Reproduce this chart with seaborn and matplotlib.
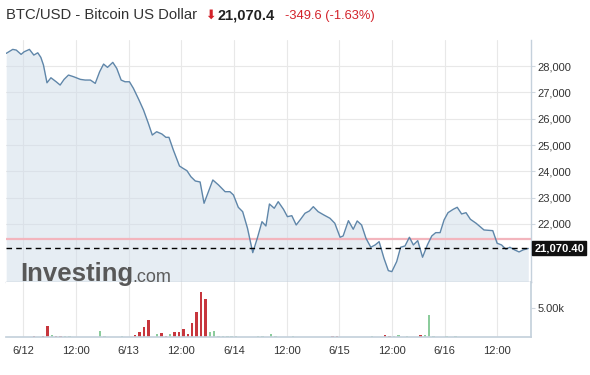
import numpy as np
import pandas as pd
import matplotlib
matplotlib.use("Agg")
import matplotlib.pyplot as plt
import matplotlib.transforms as mtransforms
import seaborn as sns

# ---------------- data ----------------
title_name = "BTC/USD - Bitcoin US Dollar"
last_price = 21070.4
change_abs = -349.6
change_pct = -1.63
prev_close = 21420.0

# hours since 6/12 00:00
price_hours = [-3.9, -2.4, -1.6, -0.5, 0.2, 1.4, 2.4, 3.3, 4.0, 4.6,
               5.4, 6.3, 7.5, 8.4, 9.3, 10.3, 11.5, 13.0, 14.1, 15.3,
               16.4, 17.4, 18.3, 19.2, 20.4, 21.3, 22.3, 23.2, 24.2, 25.1,
               26.3, 27.4, 28.5, 29.4, 30.4, 31.6, 32.5, 33.2, 34.2, 35.6,
               36.4, 37.3, 38.2, 39.2, 40.3, 41.2, 43.2, 44.5, 46.0, 47.1,
               47.9, 49.0, 50.0, 51.1, 52.3, 53.4, 54.4, 55.3, 56.1, 57.2,
               58.1, 59.3, 60.2, 61.2, 62.2, 63.2, 64.2, 65.2, 66.1, 67.2,
               68.5, 69.9, 71.0, 72.2, 72.9, 74.1, 75.2, 76.1, 77.1, 78.1,
               79.2, 80.2, 81.1, 82.2, 83.2, 84.0, 85.1, 86.0, 87.0, 88.0,
               88.9, 89.9, 91.0, 92.1, 93.1, 94.0, 95.0, 95.9, 96.8, 98.0,
               98.9, 99.9, 100.9, 101.9, 103.2, 105.0, 107.0, 108.0, 109.0, 110.0,
               110.9, 112.0, 113.0, 113.9, 115.1]
prices = [28481, 28633, 28607, 28444, 28542, 28633, 28417, 28504, 28330, 28037,
          27365, 27555, 27403, 27278, 27494, 27658, 27593, 27494, 27468, 27468,
          27342, 27783, 28075, 27950, 28140, 27912, 27468, 27403, 27403, 27153,
          26735, 26329, 25824, 25379, 25505, 25417, 25292, 25292, 24810, 24202,
          24115, 24024, 23796, 23633, 23595, 22786, 23671, 23481, 23226, 23226,
          23101, 22634, 22467, 21837, 20910, 21495, 22087, 21924, 22759, 22596,
          22847, 22558, 22277, 22315, 21962, 22178, 22406, 22494, 22657, 22467,
          22342, 22216, 22027, 21495, 21544, 22125, 21799, 22114, 21962, 21457,
          21115, 21203, 21328, 20698, 20227, 20189, 20569, 21115, 21165, 21495,
          21203, 21366, 20736, 21203, 21544, 21670, 21670, 22152, 22429, 22558,
          22634, 22380, 22429, 22178, 22027, 21772, 21746, 21267, 21203, 21039,
          21115, 21013, 20937, 21013, 21070.4]

vol_hours = [2, 4, 5, 6, 7, 8, 9, 10, 17, 18, 22,
             25, 26, 27, 28, 30, 31, 32, 33, 34, 35, 36, 37, 38, 39, 40,
             41, 42, 43, 44, 45, 46, 47, 48, 53, 54, 56, 57, 61,
             70, 71, 79, 82, 83, 84, 85, 87, 90, 91, 92, 93, 96, 98]
vol_values = [180, 180, 1840, 400, 230, 290, 180, 170, 1150, 170, 170,
              460, 980, 1780, 2930, 520, 750, 290, 520, 920, 920, 1440, 570, 2410, 4200, 7700,
              6550, 980, 1150, 230, 170, 170, 170, 170, 250, 170, 570, 170, 170,
              290, 290, 170, 400, 290, 290, 400, 170, 400, 400, 3850, 170, 170, 170]
vol_dirs = ["down", "down", "down", "up", "down", "down", "up", "up", "up", "up", "up",
            "down", "down", "down", "down", "up", "down", "down", "up", "down", "down", "down", "down", "down", "down", "down",
            "down", "up", "up", "up", "up", "up", "up", "up", "up", "up", "up", "up", "up",
            "down", "down", "up", "down", "down", "up", "up", "up", "down", "up", "up", "up", "up", "up"]

tick_hours = [0, 12, 24, 36, 48, 60, 72, 84, 96, 108]
tick_labels = ["6/12", "12:00", "6/13", "12:00", "6/14", "12:00", "6/15", "12:00", "6/16", "12:00"]
price_ticks = [22000, 23000, 24000, 25000, 26000, 27000, 28000]
vol_ticks = [5000]
vol_tick_labels = ["5.00k"]

# ---------------- style ----------------
sns.set_theme(style="white")
plt.rcParams['font.family'] = ['Liberation Sans', 'DejaVu Sans']

W, H = 590, 375
fig = plt.figure(figsize=(W / 100, H / 100), dpi=100)
fig.patch.set_facecolor("white")

left_px, right_px = 6, 530.5
p_top, p_bot = 40, 282
v_bot = 337.4
ax = fig.add_axes([left_px / W, 1 - p_bot / H, (right_px - left_px) / W, (p_bot - p_top) / H])
axv = fig.add_axes([left_px / W, 1 - v_bot / H, (right_px - left_px) / W, (v_bot - p_bot) / H], sharex=ax)

grid_col = "#e8e8e8"
spine_col = "#c5d1dc"
txt_col = "#333333"

# price panel
df = pd.DataFrame({"hour": price_hours, "price": prices})
ax.fill_between(df["hour"], df["price"], 15000, color="#cfdce9", alpha=0.5, lw=0, zorder=1)
sns.lineplot(data=df, x="hour", y="price", ax=ax, color="#5f86a9", lw=1.0, zorder=3)
ax.axhline(prev_close, color="#f3b5bd", lw=1.6, zorder=2)
ax.axhline(last_price, color="black", lw=1.0, ls=(0, (4, 3)), zorder=4)

ax.set_xlim(-3.94, 115.6)
ax.set_ylim(19795, 28990)
ax.set_xlabel("")
ax.set_ylabel("")
ax.set_xticks(tick_hours)
ax.set_yticks(price_ticks)
ax.set_yticklabels([f"{v:,.0f}" for v in price_ticks])
ax.yaxis.tick_right()
ax.tick_params(axis="y", right=True, length=3, width=0.8, color="#d0d8e0",
               labelsize=8, labelcolor=txt_col, pad=2)
ax.tick_params(axis="x", bottom=False, labelbottom=False, length=0)
ax.grid(True, color=grid_col, lw=0.8)
ax.set_axisbelow(True)
for s in ["left", "top"]:
    ax.spines[s].set_visible(False)
ax.spines["right"].set_color(spine_col)
ax.spines["bottom"].set_color("#b5c1cc")
ax.spines["right"].set_linewidth(1.0)
ax.spines["bottom"].set_linewidth(1.0)

trans = mtransforms.blended_transform_factory(ax.transAxes, ax.transData)
ax.text(1.007, last_price, f"{last_price:,.2f}", transform=trans, ha="left", va="center",
        fontsize=8, fontweight="bold", color="white", zorder=10, clip_on=False,
        bbox=dict(boxstyle="square,pad=0.18", fc="#111111", ec="#111111"))

# volume panel
vdf = pd.DataFrame({"hour": vol_hours, "volume": vol_values, "dir": vol_dirs})
sns.histplot(data=vdf, x="hour", weights="volume", hue="dir",
             palette={"down": "#c7363d", "up": "#8ccc9c"},
             binwidth=1, binrange=(-4, 116), shrink=0.55, alpha=1, linewidth=0,
             legend=False, ax=axv, multiple="layer")
axv.set_ylim(0, 9330)
axv.set_xlabel("")
axv.set_ylabel("")
axv.set_yticks(vol_ticks)
axv.set_yticklabels(vol_tick_labels)
axv.yaxis.tick_right()
axv.tick_params(axis="y", right=True, length=3, width=0.8, color="#d0d8e0",
                labelsize=8, labelcolor=txt_col, pad=2)
axv.set_xticks(tick_hours)
axv.set_xticklabels(tick_labels)
axv.tick_params(axis="x", bottom=False, length=0, labelsize=8, labelcolor=txt_col, pad=6)
axv.grid(True, axis="x", color=grid_col, lw=0.8)
axv.set_axisbelow(True)
for s in ["left", "top"]:
    axv.spines[s].set_visible(False)
axv.spines["right"].set_color(spine_col)
axv.spines["bottom"].set_color(spine_col)
axv.set_xlim(-3.94, 115.6)

# header
yb = 1 - 19 / H
fig.text(6 / W, yb, title_name, fontsize=10.7, color=txt_col, va="baseline", ha="left")
fig.text(205 / W, yb, "\u2B07", fontsize=9, color="#d3222a", va="baseline", ha="left",
         family=["DejaVu Sans"], fontweight="bold")
fig.text(218 / W, yb, f"{last_price:,.1f}", fontsize=10.5, fontweight="bold",
         color="#222222", va="baseline", ha="left")
fig.text(285 / W, yb, f"{change_abs:,.1f} ({change_pct:.2f}%)", fontsize=9.3,
         color="#d3222a", va="baseline", ha="left")

# watermark logo
fig.text(20 / W, 1 - 281.5 / H, "Investing", fontsize=18.5, fontweight="bold",
         color="#585858", va="baseline", ha="left", zorder=20)
fig.text(132 / W, 1 - 281.5 / H, ".com", fontsize=13, color="#5c5c5c",
         va="baseline", ha="left", zorder=20)

fig.savefig("out.png", dpi=100, facecolor="white")
